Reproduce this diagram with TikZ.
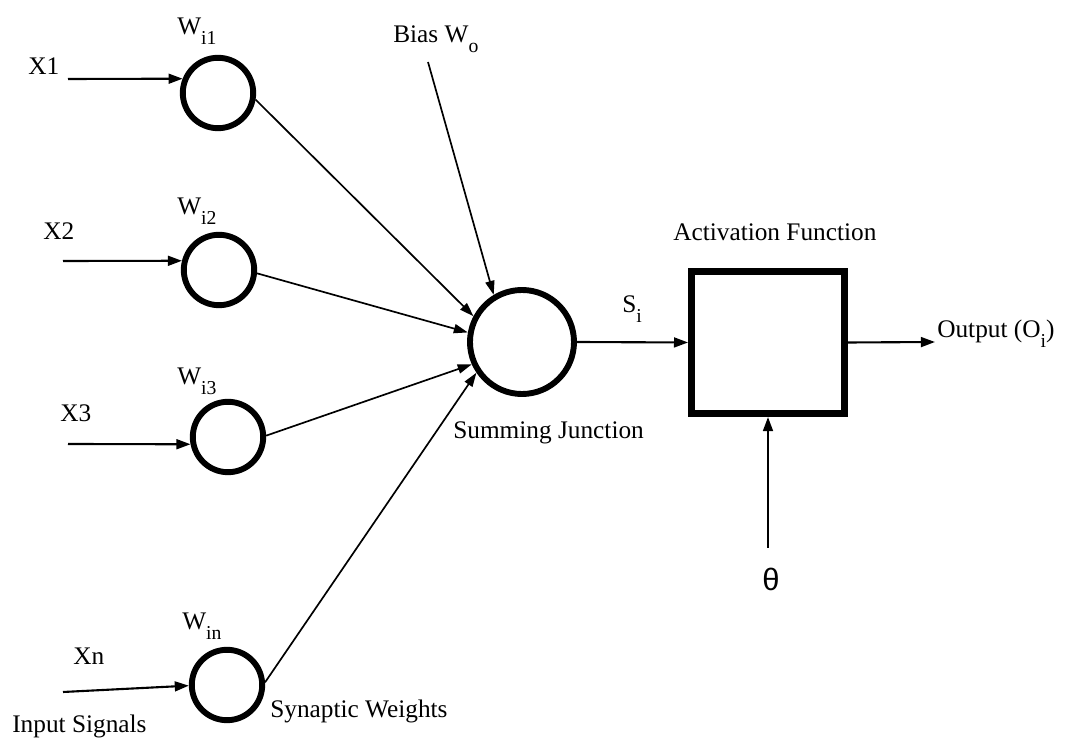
\documentclass[tikz,border=0pt]{standalone}
\usepackage{fontspec}
\setmainfont{Liberation Serif}
\newfontfamily\thetafont{Liberation Sans}
\usetikzlibrary{arrows.meta}
\newcommand{\lowsub}[1]{\raisebox{-0.36em}{\fontsize{14}{14}\selectfont #1}}
\tikzset{
  weight/.style={circle, draw, line width=4.2pt, minimum size=1.76cm, inner sep=0pt},
  lbl/.style={anchor=base west, inner sep=0pt, font=\fontsize{18}{20}\selectfont},
  feed/.style={-{Triangle[length=10pt,width=7pt]}, line width=1.5pt},
  link/.style={-{Triangle[length=10pt,width=6.5pt]}, line width=1.2pt}
}
\begin{document}
\begin{tikzpicture}[x=0.025cm, y=-0.025cm]
        \useasboundingbox (0,0) rectangle (1068,740);
        \node[weight] (w1) at (218,93) {};
        \node[weight] (w2) at (219,270) {};
        \node[weight] (w3) at (228,437) {};
        \node[weight] (wn) at (227,685) {};
        \node[circle, draw, line width=4.2pt, minimum size=2.6cm, inner sep=0pt] (sum) at (522,342) {};
        \node[draw, line width=5pt, minimum width=3.82cm, minimum height=3.55cm, inner sep=0pt] (act) at (768,342.5) {};

        \coordinate (x1) at (68,79);
        \coordinate (x2) at (63,261);
        \coordinate (x3) at (68,444);
        \coordinate (xn) at (63,692);
        \coordinate (bias) at (428,62);
        \coordinate (theta) at (768,548);
        \coordinate (out) at (935,342);

        \draw[feed] (x1) -- (w1.158);
        \draw[feed] (x2) -- (w2.166);
        \draw[feed] (x3) -- (w3.191);
        \draw[feed] (xn) -- (wn.181);

        \draw[link] (w1.-10) -- (sum.152);
        \draw[link] (w2.-5) -- (sum.170);
        \draw[link] (w3.2) -- (sum.204);
        \draw[link] (wn.4) -- (sum.214);
        \draw[link] (bias) -- (sum.121);

        \draw[feed] (sum.east) -- (act.west);
        \draw[feed] (act.east) -- (out);
        \draw[feed] (theta) -- (act.south);

        \node[lbl] (lx1) at (28,75) {X1};
        \node[lbl] (lx2) at (43,240) {X2};
        \node[lbl] (lx3) at (60,422) {X3};
        \node[lbl] (lxn) at (73,665) {Xn};
        \node[lbl] (lin) at (12,733) {Input Signals};
        \node[lbl] (lw1) at (177,35) {W\lowsub{i1}};
        \node[lbl] (lw2) at (177,215) {W\lowsub{i2}};
        \node[lbl] (lw3) at (177,385) {W\lowsub{i3}};
        \node[lbl] (lwn) at (182,630) {W\lowsub{in}};
        \node[lbl] (lsyn) at (270,718) {Synaptic Weights};
        \node[lbl] (lbias) at (393,43) {Bias W\lowsub{o}};
        \node[lbl] (lsum) at (453,439) {Summing Junction};
        \node[lbl] (ls) at (622,313) {S\lowsub{i}};
        \node[lbl] (lact) at (673,241) {Activation Function};
        \node[lbl] (lout) at (937,338) {Output (O\lowsub{i})};
        \node[font=\thetafont\fontsize{22}{22}\selectfont, inner sep=0pt] (lth) at (771,579) {θ};
\end{tikzpicture}
\end{document}
